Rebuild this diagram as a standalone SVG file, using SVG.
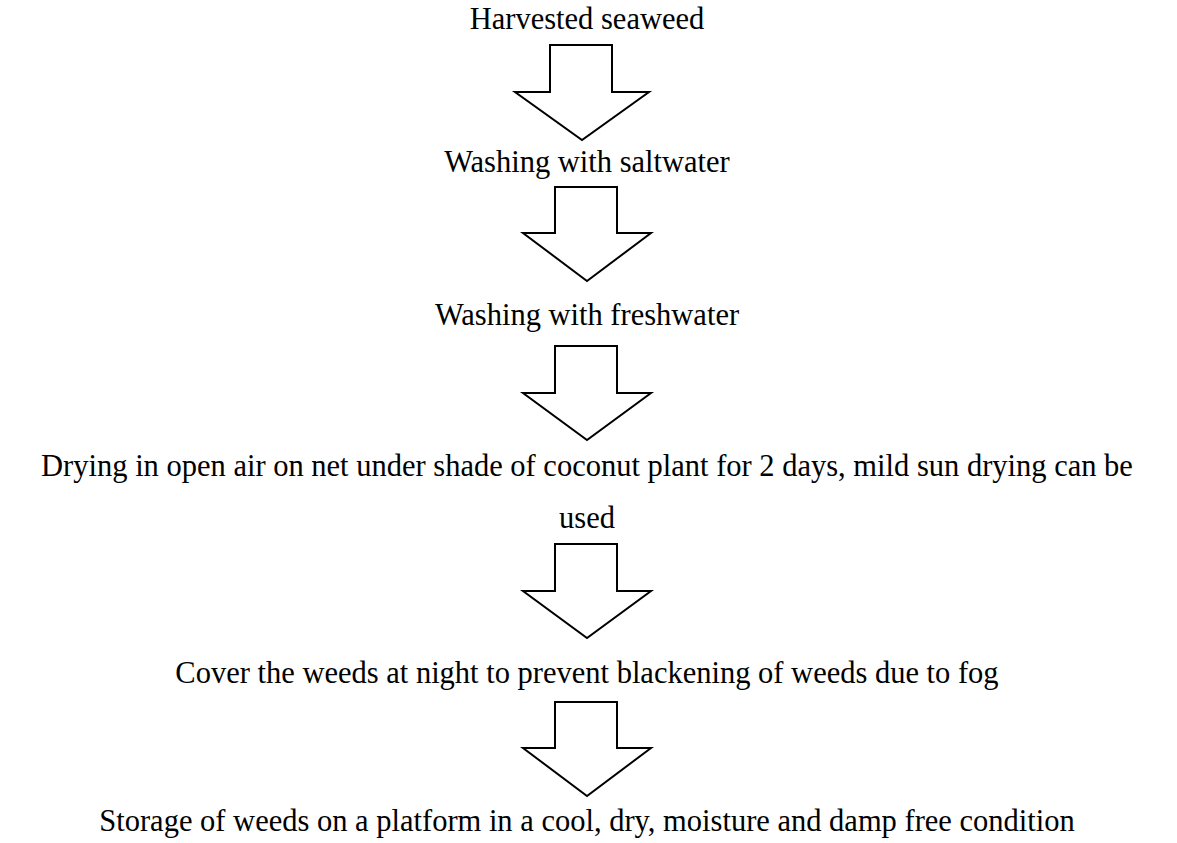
<svg xmlns="http://www.w3.org/2000/svg" width="1177" height="843" viewBox="0 0 1177 843">
<style>
text{font-family:"Liberation Serif","Times New Roman",serif;font-size:30.5px;fill:#000;text-anchor:middle}
.arr{fill:#fff;stroke:#000;stroke-width:2;stroke-linejoin:miter}
</style>
<rect width="1177" height="843" fill="#fff"/>
<g id="n1"><text x="587" y="29">Harvested seaweed</text></g>
<g id="n2"><text x="587" y="172">Washing with saltwater</text></g>
<g id="n3"><text x="587" y="325">Washing with freshwater</text></g>
<g id="n4"><text x="587" y="476">Drying in open air on net under shade of coconut plant for 2 days, mild sun drying can be</text><text x="587" y="528">used</text></g>
<g id="n5"><text x="587" y="683">Cover the weeds at night to prevent blackening of weeds due to fog</text></g>
<g id="n6"><text x="587" y="831">Storage of weeds on a platform in a cool, dry, moisture and damp free condition</text></g>
<g id="connectors">
<polygon class="arr" points="550,45 612,45 612,92 649,92 582,140 515,92 550,92"/>
<polygon class="arr" points="555,187 617,187 617,233 651,233 587,281 523,233 555,233"/>
<polygon class="arr" points="555,346 617,346 617,393 651,393 587,440 523,393 555,393"/>
<polygon class="arr" points="555,544 617,544 617,591 651,591 587,638 523,591 555,591"/>
<polygon class="arr" points="555,702 617,702 617,748 651,748 587,796 523,748 555,748"/>
</g>
</svg>
